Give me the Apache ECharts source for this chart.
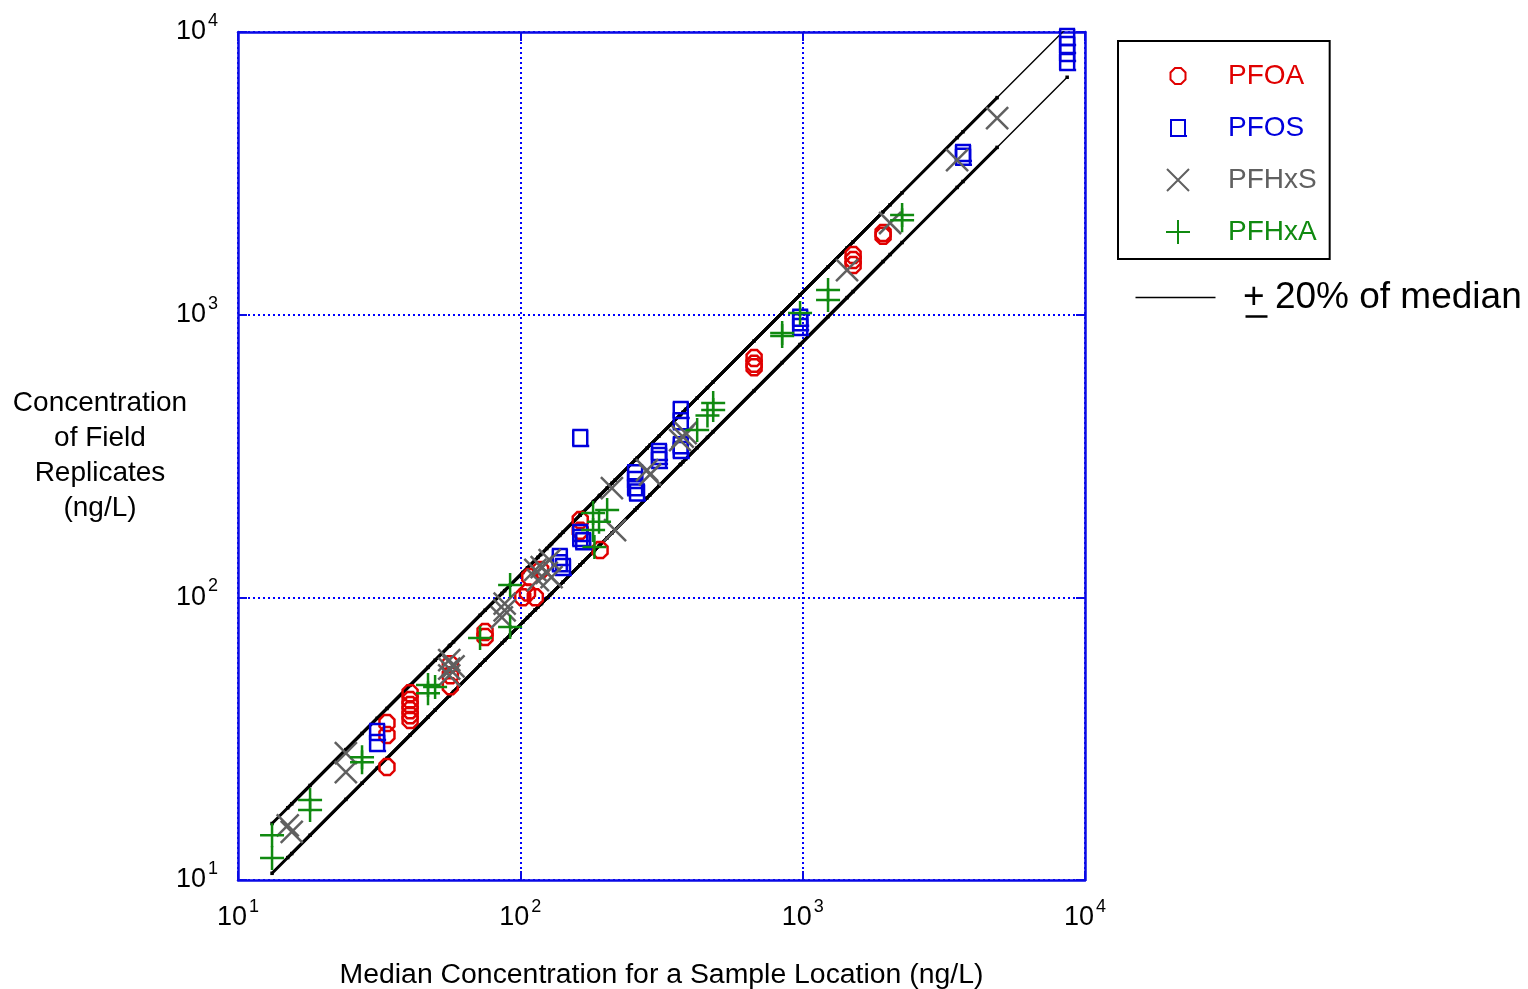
<!DOCTYPE html>
<html>
<head>
<meta charset="utf-8">
<title>Field replicates vs. median concentration</title>
<script src="https://cdn.jsdelivr.net/npm/echarts@6/dist/echarts.min.js"></script>
<style>
  html, body { margin: 0; padding: 0; background: #ffffff; }
  #chart { width: 1528px; height: 989px; }
</style>
</head>
<body>
<div id="chart"></div>
<script>
// Each pair: [median concentration for the sample location, field replicate concentration], ng/L
const pfoaPoints = [
  [33.7, 35.9], [33.7, 32.6], [33.7, 25.1],
  [40.7, 45.8], [40.7, 43.3], [40.7, 41.6], [40.7, 39.9], [40.7, 38.3], [40.7, 36.8],
  [56.5, 58], [56.5, 53], [56.5, 48.5],
  [75, 75.4], [75, 72.4],
  [102, 100], [106, 104], [113, 100], [108, 118], [118, 125],
  [163, 187.6], [163, 172], [191.6, 146.9],
  [673, 702], [673, 670], [673, 652],
  [1509, 1625], [1509, 1560], [1509, 1498],
  [1927, 1944], [1927, 1900]
];
const pfosPoints = [
  [31.1, 33.4], [31.1, 30.5],
  [138, 139], [138, 132], [141.6, 128],
  [163, 169], [163, 162], [163, 366], [167, 158],
  [255, 275], [255, 260], [255, 245], [259, 235],
  [310, 327], [310, 316], [310, 306],
  [370, 460], [370, 420], [370, 345], [370, 332],
  [980, 975], [980, 940], [980, 905],
  [3698, 3730], [3698, 3620],
  [8645, 9600], [8645, 8990], [8645, 8420], [8645, 7830]
];
const pfhxsPoints = [
  [15.0, 15.6], [15.5, 14.8],
  [24.1, 28.1], [24.1, 24.1],
  [56, 60], [56, 56], [56, 53], [58, 57],
  [88, 95], [88, 90], [86, 85],
  [113, 125], [115.4, 115], [119, 128], [124, 122], [127, 135.5], [129, 118],
  [211, 243.6], [216.5, 173],
  [281, 282], [288, 272],
  [368, 360], [376, 370], [385, 381],
  [1436, 1438], [2040, 2110], [3524, 3523], [4884, 4957]
];
const pfhxaPoints = [
  [13.2, 14.4], [13.2, 11.96],
  [18, 19.2], [18, 17.7],
  [27.5, 27.2], [27.5, 26.1],
  [47.1, 49], [47.1, 45.8], [49.9, 48.2],
  [72, 71.8],
  [92, 110.5], [92, 78.5],
  [181, 198.8], [181, 173], [183, 150.6], [190, 185], [203, 203.6],
  [423, 390.6], [460, 440], [482, 486.6], [482, 459.6],
  [846, 861], [846, 840],
  [979, 1013],
  [1230, 1222], [1230, 1127],
  [2250, 2250], [2250, 2160]
];

const analyteNames = ['PFOA', 'PFOS', 'PFHxS', 'PFHxA'];
const analyteColors = ['#e00000', '#0000dd', '#606060', '#108a10'];
const bandFactors = [1.2, 0.8];          // ±20 % of the median
const axisTicks = [10, 100, 1000, 10000];

const FONT = '"Liberation Sans", Arial, sans-serif';
const BLUE = '#0a0ae6';

// Marker outlines, drawn in a 24x24 box (the corner moves fix the box size)
const BOX = 'M0,0 L0,0 M24,24 L24,24 ';
const markerPaths = [
  'path://' + BOX + 'M9,4 L15,4 L19.5,8.5 L19.5,15.5 L15,20 L9,20 L4.5,15.5 L4.5,8.5 Z',
  'path://' + BOX + 'M4,4 L20,4 M5,4 L5,20 M19,4 L19,20 M4,20 L21,20',
  'path://' + BOX + 'M1,1 L23,23 M23,1 L1,23',
  'path://' + BOX + 'M12,0 L12,24 M0,12 L24,12'
];
const analytePoints = [pfoaPoints, pfosPoints, pfhxsPoints, pfhxaPoints];

const chart = echarts.init(document.getElementById('chart'), null, { renderer: 'canvas' });

const powerLabel = v => '{b|10}{s|' + Math.round(Math.log10(v)) + '}';
const powerRich = {
  b: { fontSize: 27, fontFamily: FONT, color: '#000', lineHeight: 40 },
  s: { fontSize: 18, fontFamily: FONT, color: '#000', lineHeight: 16, verticalAlign: 'top', padding: [0, 0, 0, 2] }
};

function logAxis(position, main) {
  return {
    type: 'log', logBase: 10, min: axisTicks[0], max: axisTicks[axisTicks.length - 1],
    splitNumber: axisTicks.length - 1,
    position: position,
    axisLine: { show: true, onZero: false, lineStyle: { color: BLUE, width: 2.5 } },
    axisTick: { show: true, inside: true, length: 9, lineStyle: { color: BLUE, width: 2 } },
    minorTick: { show: false },
    axisLabel: main ? { show: true, formatter: powerLabel, rich: powerRich, margin: 18 } : { show: false },
    splitLine: main ? { show: true, lineStyle: { color: '#0000ff', width: 2, type: [2, 3] } } : { show: false },
    axisPointer: { show: false }
  };
}

const xMain = Object.assign(logAxis('bottom', true), {
  name: 'Median Concentration for a Sample Location (ng/L)',
  nameLocation: 'middle', nameGap: 81, nameMoveOverlap: false,
  nameTextStyle: { fontSize: 28.4, fontFamily: FONT, color: '#000' }
});
const yMain = Object.assign(logAxis('left', true), {
  name: 'Concentration\nof Field\nReplicates\n(ng/L)',
  nameLocation: 'middle', nameGap: 138, nameRotate: 0, nameMoveOverlap: false,
  nameTextStyle: { fontSize: 28, fontFamily: FONT, color: '#000', align: 'center', verticalAlign: 'middle', lineHeight: 35 }
});
yMain.axisLabel.margin = 20;

// ±20 % band for each analyte, spanning that analyte's medians, dotted at every median
const bandSeries = [];
analytePoints.forEach((pts, i) => {
  const medians = [...new Set(pts.map(p => p[0]))].sort((a, b) => a - b);
  bandFactors.forEach(f => {
    bandSeries.push({
      type: 'line', name: analyteNames[i] + ' band ' + f,
      data: medians.map(m => [m, m * f]),
      showSymbol: true, showAllSymbol: true, symbol: 'rect', symbolSize: 3.5,
      itemStyle: { color: '#000' },
      lineStyle: { color: '#000', width: analyteNames[i] === 'PFOS' ? 1.4 : 3 },
      silent: true, z: 2, animation: false, clip: true
    });
  });
});

const pointSeries = analytePoints.map((pts, i) => ({
  type: 'scatter', name: analyteNames[i], data: pts,
  symbol: markerPaths[i], symbolSize: [24, 24],
  itemStyle: { color: 'transparent', borderColor: analyteColors[i], borderWidth: 2.5, opacity: 1 },
  emphasis: { disabled: true },
  z: 3, animation: false
}));

chart.setOption({
  backgroundColor: '#ffffff',
  animation: false,
  textStyle: { fontFamily: FONT },
  grid: { left: 238, top: 32, width: 847, height: 848, containLabel: false, outerBoundsMode: 'none' },
  xAxis: [xMain, logAxis('top', false)],
  yAxis: [yMain, logAxis('right', false)],
  legend: {
    orient: 'vertical', left: 1118, top: 41,
    padding: [19, 13, 11, 47],
    itemWidth: 90, itemHeight: 24, itemGap: 20,
    borderColor: '#000', borderWidth: 2, borderRadius: 0,
    backgroundColor: '#fff',
    selectedMode: false,
    textStyle: { fontSize: 28, fontFamily: FONT, lineHeight: 32, padding: [0, 0, 0, 0] },
    data: analyteNames.map((n, i) => ({
      name: n, icon: markerPaths[i],
      itemStyle: { color: 'transparent', borderColor: analyteColors[i], borderWidth: 2 },
      textStyle: { color: analyteColors[i] }
    }))
  },
  graphic: [
    { type: 'line', left: 1133, top: 295, shape: { x1: 0, y1: 0, x2: 80, y2: 0 }, style: { stroke: '#000', lineWidth: 1.3 } },
    { type: 'text', left: 1243, top: 279, style: { text: '+ 20% of median', font: '37px ' + FONT, fill: '#000' } },
    { type: 'line', left: 1243, top: 314, shape: { x1: 0, y1: 0, x2: 22, y2: 0 }, style: { stroke: '#000', lineWidth: 2.5 } }
  ],
  series: bandSeries.concat(pointSeries)
});
</script>
</body>
</html>
